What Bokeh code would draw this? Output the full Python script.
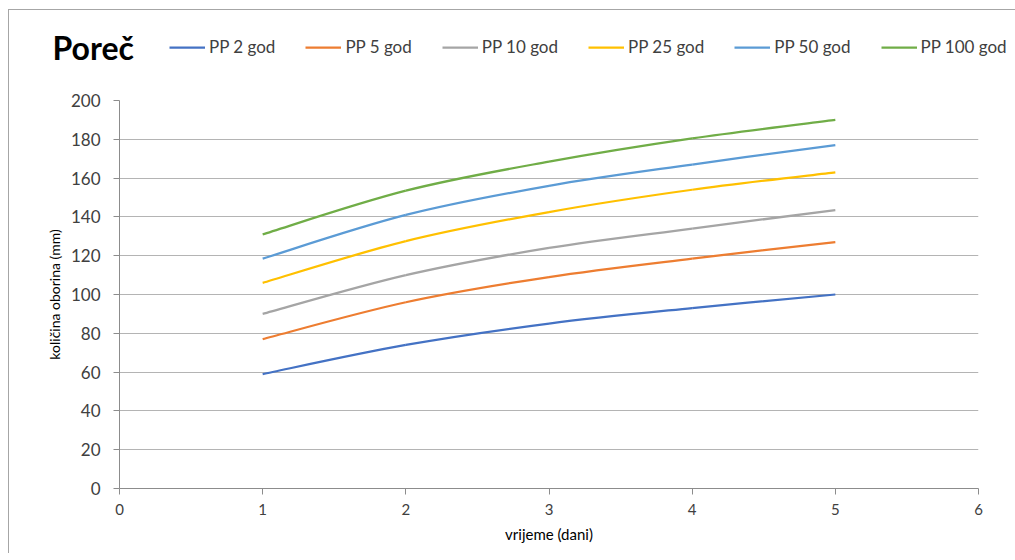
import numpy as np
from bokeh.plotting import figure
from bokeh.layouts import column
from bokeh.models import Range1d, Legend, LegendItem, ColumnDataSource, FixedTicker, Label
from bokeh.embed import file_html
from bokeh.resources import INLINE

days = [1, 2, 3, 4, 5]
pp2 = [59, 74, 85, 93, 100]
pp5 = [77, 96, 109, 118.5, 127]
pp10 = [90, 110, 124, 134, 143.5]
pp25 = [106, 127.5, 142.5, 154, 163]
pp50 = [118.5, 141, 156, 167, 177]
pp100 = [131, 153.5, 168.5, 180.5, 190]

series_names = ["PP 2 god", "PP 5 god", "PP 10 god", "PP 25 god", "PP 50 god", "PP 100 god"]
series_values = [pp2, pp5, pp10, pp25, pp50, pp100]
colors = ["#4472C4", "#ED7D31", "#A5A5A5", "#FFC000", "#5B9BD5", "#70AD47"]

x_ticks = [0, 1, 2, 3, 4, 5, 6]
y_ticks = [0, 20, 40, 60, 80, 100, 120, 140, 160, 180, 200]

FONT = "Lato"

# ---- header (title + legend) ----
head = figure(width=1006, height=65, output_backend="svg", toolbar_location=None,
              x_range=Range1d(0, 1), y_range=Range1d(0, 1),
              x_axis_type=None, y_axis_type=None,
              min_border=0, min_border_left=0, min_border_right=0,
              min_border_top=0, min_border_bottom=0)
head.outline_line_color = None
head.xgrid.grid_line_color = None
head.ygrid.grid_line_color = None
head.frame_align = False

# ---- main plot ----
p = figure(width=999, height=478, output_backend="svg", toolbar_location=None,
           x_range=Range1d(0, 6), y_range=Range1d(0, 200),
           min_border_left=110, min_border_right=30, min_border_top=25, min_border_bottom=65)
p.outline_line_color = None
p.background_fill_color = "white"
p.border_fill_color = "white"
p.frame_align = False

p.xgrid.grid_line_color = None
p.ygrid.grid_line_color = "#b4b4b4"
p.ygrid.grid_line_width = 1

for ax in (p.xaxis[0], p.yaxis[0]):
    ax.axis_line_color = "#8c8c8c"
    ax.major_tick_line_color = "#8c8c8c"
    ax.minor_tick_line_color = None
    ax.major_tick_in = 0
    ax.major_tick_out = 6
    ax.major_label_text_font = FONT
    ax.major_label_text_color = "#404040"
    ax.axis_label_text_font = FONT
    ax.axis_label_text_font_style = "normal"
    ax.axis_label_text_color = "#000000"

p.xaxis.major_label_text_font_size = "15px"
p.yaxis.major_label_text_font_size = "17px"
p.xaxis.ticker = FixedTicker(ticks=x_ticks)
p.yaxis.ticker = FixedTicker(ticks=y_ticks)
p.xaxis.axis_label = "vrijeme (dani)"
p.yaxis.axis_label = "količina oborina (mm)"
p.xaxis.axis_label_text_font_size = "15px"
p.yaxis.axis_label_text_font_size = "14px"
p.yaxis.major_label_standoff = 13
p.xaxis.major_label_standoff = 9
p.yaxis.axis_label_standoff = 5
p.xaxis.axis_label_standoff = 7

items = []
for name, vals, col in zip(series_names, series_values, colors):
    n = len(days)
    x0, y0, x1, y1, cx0, cy0, cx1, cy1 = [], [], [], [], [], [], [], []
    for i in range(n - 1):
        im = max(i - 1, 0)
        ip2 = min(i + 2, n - 1)
        x0.append(days[i]); y0.append(vals[i])
        x1.append(days[i + 1]); y1.append(vals[i + 1])
        cx0.append(days[i] + (days[i + 1] - days[im]) / 6.0)
        cy0.append(vals[i] + (vals[i + 1] - vals[im]) / 6.0)
        cx1.append(days[i + 1] - (days[ip2] - days[i]) / 6.0)
        cy1.append(vals[i + 1] - (vals[ip2] - vals[i]) / 6.0)
    src = ColumnDataSource(dict(x0=x0, y0=y0, x1=x1, y1=y1, cx0=cx0, cy0=cy0, cx1=cx1, cy1=cy1))
    p.bezier(x0="x0", y0="y0", x1="x1", y1="y1", cx0="cx0", cy0="cy0", cx1="cx1", cy1="cy1",
             source=src, line_color=col, line_width=2.25)
    r = head.line(x=np.array([np.nan]), y=np.array([np.nan]), line_color=col, line_width=2.25)
    items.append(LegendItem(label=name, renderers=[r]))

legend = Legend(items=items, orientation="horizontal", location=(160, 18),
                label_text_font=FONT, label_text_font_size="17px", label_text_color="#404040",
                glyph_width=36, glyph_height=20, label_standoff=4, spacing=30,
                padding=0, margin=0, border_line_color=None, background_fill_alpha=0)
head.add_layout(legend, "center")

title = Label(x=43, y=28, x_units="screen", y_units="screen", text="Poreč",
              text_font=FONT, text_font_size="32px", text_font_style="bold",
              text_color="#000000", text_baseline="middle", text_align="left")
head.add_layout(title)

layout = column(head, p, spacing=0)
layout.styles = {"margin-top": "9px", "margin-left": "8px",
                 "border-top": "1px solid #a6a6a6", "border-left": "1px solid #a6a6a6"}

open("out.html", "w").write(file_html(layout, INLINE))
